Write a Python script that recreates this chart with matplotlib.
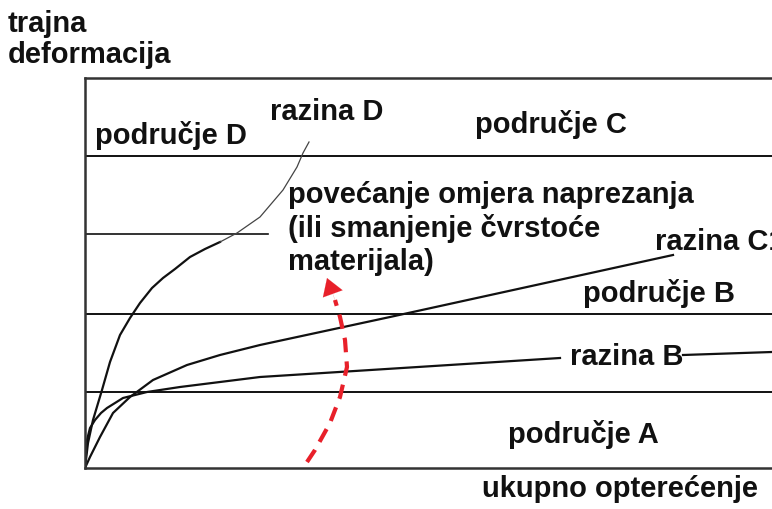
import matplotlib
matplotlib.use("Agg")
import matplotlib.pyplot as plt

# data units: x = ukupno opterecenje, y = trajna deformacija
razine = [76, 154, 234, 312]          # granice podrucja A/B/C/D
razina_kratka_do = 183                 # linija izmedu C i D je kratka

d_x = [0, 3, 8, 17, 25, 35, 45, 55, 67, 78, 90, 105, 120, 135]
d_y = [0, 25, 48, 78, 106, 133, 150, 165, 180, 190, 199, 211, 219, 226]
d2_x = [135, 152, 175, 198, 212, 218, 224]
d2_y = [226, 235, 251, 278, 301, 315, 326]

c_x = [0, 5, 15, 28, 45, 68, 102, 135, 175, 305, 588]
c_y = [0, 11, 31, 55, 71, 88, 103, 113, 123, 151, 213]

b_x = [0, 2, 5, 10, 16, 22, 30, 38, 50, 62, 95, 175, 475]
b_y = [0, 28, 40, 48, 55, 60, 65, 70, 73, 76, 81, 91, 110]
b2_x = [598, 687]
b2_y = [113, 116]

strelica_x = [222, 230, 245, 255, 262, 260, 255, 250]
strelica_y = [6, 18, 45, 71, 101, 128, 151, 168]
vrh = (242, 190)

W, H = 772, 509
fig = plt.figure(figsize=(W / 100, H / 100), dpi=100)
ax = fig.add_axes([85 / W, 41 / H, 687 / W, 390 / H])
ax.set_xlim(0, 687)
ax.set_ylim(0, 390)
ax.set_xticks([])
ax.set_yticks([])
ax.spines['right'].set_visible(False)
for s in ['left', 'bottom', 'top']:
    ax.spines[s].set_linewidth(1.8)
    ax.spines[s].set_color('#333333')

for r in razine:
    if r == 234:
        ax.plot([0, razina_kratka_do], [r, r], color='#111111', lw=1.2)
    else:
        ax.axhline(r, color='#111111', lw=1.4)

ax.plot(d_x, d_y, color='#111111', lw=1.6)
ax.plot(d2_x, d2_y, color='#444444', lw=0.9)
ax.plot(c_x, c_y, color='#111111', lw=1.6)
ax.plot(b_x, b_y, color='#111111', lw=1.6)
ax.plot(b2_x, b2_y, color='#111111', lw=1.6)

red = '#e8202a'
ax.plot(strelica_x, strelica_y, color=red, lw=3, linestyle=(0, (3.5, 2.2)))
ax.annotate('', xy=vrh, xytext=(strelica_x[-1], strelica_y[-1]),
            arrowprops=dict(arrowstyle='-|>,head_length=1.2,head_width=0.75',
                            color=red, lw=0.1, shrinkA=0, shrinkB=0))

fs = 21
font = 'Liberation Sans'
def txt(x, y, s):
    ax.text(x - 85, 468 - y, s, fontsize=fs, family=font, va='baseline',
            ha='left', clip_on=False, color='#111111', fontweight='bold')

txt(8, 32, 'trajna')
txt(8, 63, 'deformacija')
txt(95, 144, 'područje D')
txt(270, 120, 'razina D')
txt(475, 133, 'područje C')
txt(288, 203, 'povećanje omjera naprezanja')
txt(288, 237, '(ili smanjenje čvrstoće')
txt(288, 270, 'materijala)')
txt(655, 250, 'razina C1')
txt(583, 302, 'područje B')
txt(570, 365, 'razina B')
txt(508, 443, 'područje A')
txt(482, 497, 'ukupno opterećenje')

plt.savefig('out.png', dpi=100)
